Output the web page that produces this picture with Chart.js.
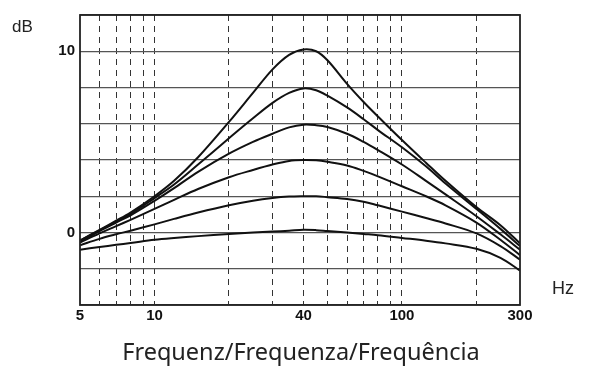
<!DOCTYPE html>
<html>
<head>
<meta charset="utf-8">
<script src="https://cdn.jsdelivr.net/npm/chart.js@4.4.1/dist/chart.umd.min.js"></script>
<style>
  html, body { margin: 0; padding: 0; background: #fff; }
  #wrap { position: relative; width: 609px; height: 373px; }
</style>
</head>
<body>
<div id="wrap"><canvas id="eqChart"></canvas></div>
<script>
// frequency points (Hz) the curves are read at
const freqs = [5, 6, 7, 8, 10, 12, 15, 20, 25, 30, 35, 40, 45, 50, 60, 70, 80, 100, 125, 150, 200, 250, 300];

// gain curves in dB, one per boost setting
const boost10 = [-0.45, 0.15, 0.65, 1.1, 2.0, 2.85, 4.15, 6.1, 7.7, 9.0, 9.8, 10.1, 10.0, 9.5, 8.2, 7.2, 6.4, 5.1, 3.85, 2.85, 1.4, 0.4, -0.6];
const boost8  = [-0.45, 0.12, 0.6, 1.02, 1.9, 2.65, 3.75, 5.2, 6.3, 7.15, 7.7, 7.95, 7.85, 7.55, 6.9, 6.25, 5.65, 4.7, 3.65, 2.7, 1.3, 0.2, -0.75];
const boost6  = [-0.5, 0.08, 0.55, 0.95, 1.75, 2.45, 3.35, 4.35, 5.0, 5.45, 5.8, 5.95, 5.92, 5.82, 5.45, 5.0, 4.55, 3.75, 2.85, 2.1, 0.9, -0.1, -0.95];
const boost4  = [-0.55, -0.05, 0.35, 0.7, 1.3, 1.8, 2.4, 3.05, 3.45, 3.75, 3.95, 4.0, 3.98, 3.9, 3.7, 3.4, 3.1, 2.55, 2.0, 1.5, 0.55, -0.4, -1.25];
const boost2  = [-0.7, -0.35, -0.1, 0.1, 0.45, 0.75, 1.1, 1.5, 1.75, 1.9, 1.98, 2.0, 2.0, 1.95, 1.85, 1.7, 1.5, 1.15, 0.8, 0.5, -0.05, -0.75, -1.5];
const boost0  = [-0.95, -0.8, -0.68, -0.58, -0.4, -0.3, -0.2, -0.08, 0.0, 0.05, 0.1, 0.15, 0.13, 0.08, 0.0, -0.08, -0.15, -0.3, -0.45, -0.6, -0.9, -1.4, -2.1];

// axis ticks
const gridFreqs = [5, 6, 7, 8, 9, 10, 20, 30, 40, 50, 60, 70, 80, 90, 100, 200, 300];
const freqLabels = [5, 10, 40, 100, 300];
const dbLabels = [0, 10];

const curves = [boost10, boost8, boost6, boost4, boost2, boost0];

const tickFont = { family: "'Liberation Sans', Arial, sans-serif", size: 15, weight: 'bold' };

// frame + loose labels (dB, Hz, caption)
const extrasPlugin = {
  id: 'extras',
  afterDraw(chart) {
    const { ctx, chartArea: a } = chart;
    ctx.save();
    ctx.strokeStyle = '#222';
    ctx.lineWidth = 1.8;
    ctx.strokeRect(a.left, a.top, a.right - a.left, a.bottom - a.top);
    ctx.fillStyle = '#222';
    ctx.textBaseline = 'middle';
    ctx.textAlign = 'left';
    ctx.font = "17px 'Liberation Sans', Arial, sans-serif";
    ctx.fillText('dB', 12, 27);
    ctx.font = "18px 'Liberation Sans', Arial, sans-serif";
    ctx.fillText('Hz', 552, 289);
    ctx.textAlign = 'center';
    ctx.textBaseline = 'alphabetic';
    ctx.font = "23.5px 'Noto Sans', sans-serif";
    ctx.fillText('Frequenz/Frequenza/Frequência', 301, 360);
    ctx.restore();
  }
};

new Chart(document.getElementById('eqChart'), {
  type: 'line',
  data: {
    datasets: curves.map(vals => ({
      data: freqs.map((f, i) => ({ x: f, y: vals[i] })),
      borderColor: '#111',
      borderWidth: 2,
      pointRadius: 0,
      tension: 0.35,
      fill: false,
    }))
  },
  options: {
    responsive: true,
    maintainAspectRatio: false,
    animation: false,
    layout: { padding: { top: 15, right: 89, left: 0, bottom: 0 } },
    plugins: { legend: { display: false }, tooltip: { enabled: false } },
    scales: {
      x: {
        type: 'logarithmic',
        min: 5,
        max: 300,
        afterBuildTicks: (s) => { s.ticks = gridFreqs.map(v => ({ value: v })); },
        afterFit: (s) => { s.height = 68; },
        grid: {
          drawTicks: false,
          lineWidth: 1,
          color: (c) => (c.tick && (c.tick.value === 5 || c.tick.value === 300)) ? 'rgba(0,0,0,0)' : '#333',
        },
        border: { display: false, dash: [6, 5] },
        ticks: {
          autoSkip: false,
          maxRotation: 0,
          padding: 2,
          color: '#111',
          font: tickFont,
          callback: (v) => freqLabels.includes(v) ? String(v) : '',
        }
      },
      y: {
        min: -4,
        max: 12,
        afterBuildTicks: (s) => { s.ticks = [-4, -2, 0, 2, 4, 6, 8, 10, 12].map(v => ({ value: v })); },
        afterFit: (s) => { s.width = 80; },
        grid: { drawTicks: false, color: '#555', lineWidth: 1.3 },
        border: { display: false },
        ticks: {
          padding: 5,
          color: '#111',
          font: tickFont,
          callback: (v) => dbLabels.includes(v) ? String(v) : '',
        }
      }
    }
  },
  plugins: [extrasPlugin]
});
</script>
</body>
</html>
